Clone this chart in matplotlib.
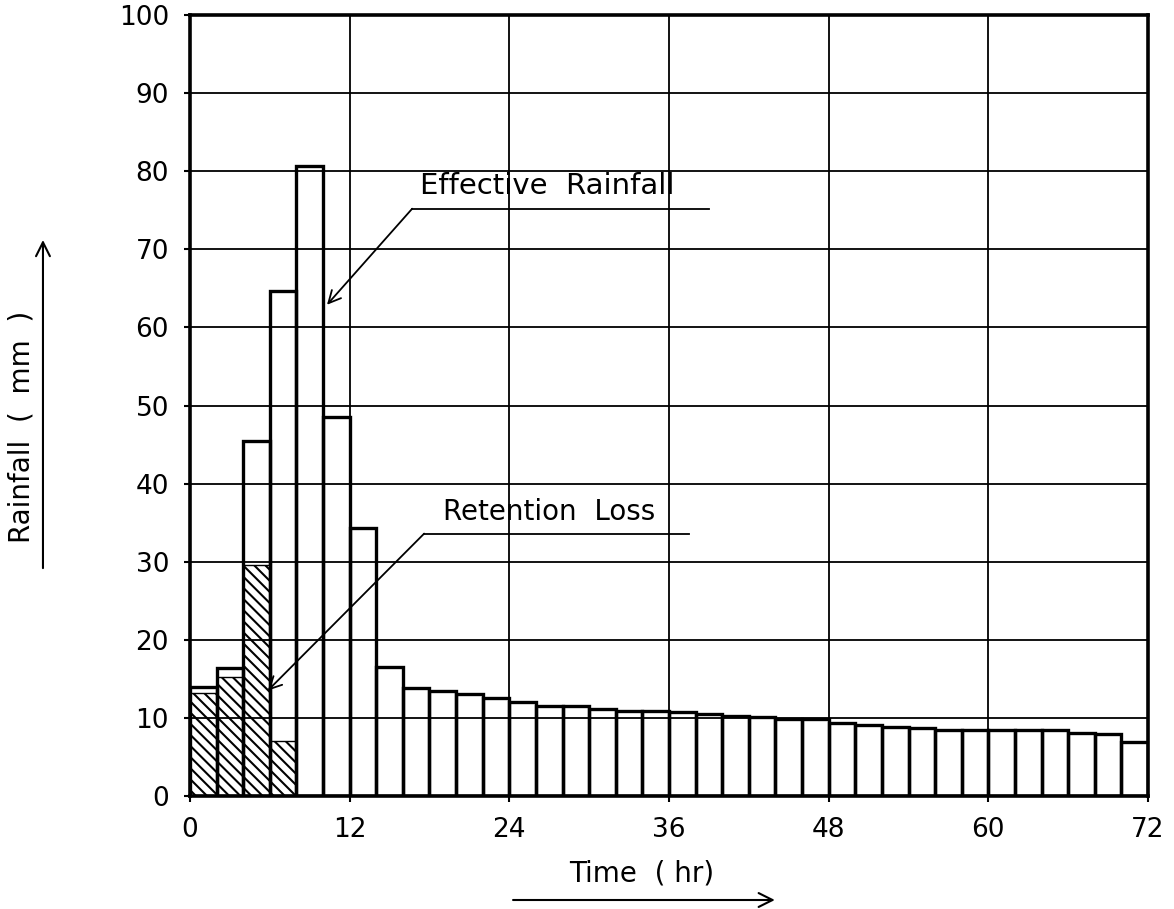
import matplotlib
matplotlib.use('Agg')
import matplotlib.pyplot as plt

# 2-hour time steps (start hour of each bar)
hours = list(range(0, 72, 2))

# total rainfall per 2 hr step (mm)
rainfall = [13.9, 16.4, 45.5, 64.7, 80.7, 48.5, 34.3, 16.5, 13.8, 13.4,
            13.1, 12.6, 12.1, 11.5, 11.5, 11.1, 10.9, 10.9, 10.7, 10.5,
            10.3, 10.1, 9.9, 9.8, 9.4, 9.1, 8.9, 8.7, 8.5, 8.5,
            8.5, 8.5, 8.5, 8.1, 7.9, 6.9]

# retention loss (hatched part), only first four steps
loss_hours = [0, 2, 4, 6]
retention_loss = [13.25, 15.2, 29.6, 7.0]

xticks = [0, 12, 24, 36, 48, 60, 72]
yticks = [0, 10, 20, 30, 40, 50, 60, 70, 80, 90, 100]

plt.rcParams['font.family'] = ['DejaVu Sans']
plt.rcParams['hatch.linewidth'] = 1.5

fig = plt.figure(figsize=(11.74, 9.09), dpi=100)
ax = fig.add_axes([0.1618, 0.1243, 0.8161, 0.8592])

ax.set_xlim(0, 72)
ax.set_ylim(0, 100)
ax.set_xticks(xticks)
ax.set_yticks(yticks)
ax.grid(True, color='black', linewidth=1.3)
ax.set_axisbelow(True)

ax.bar(loss_hours, retention_loss, width=2, align='edge', fill=False,
       hatch='\\\\\\', edgecolor='black', linewidth=1.0)
ax.bar(hours, rainfall, width=2, align='edge', fill=False,
       edgecolor='black', linewidth=2.4)

for s in ax.spines.values():
    s.set_linewidth(2.6)

ax.tick_params(axis='both', labelsize=19, length=4, width=1.5, pad=11)

# leader notes
ax.annotate('', xy=(10.3, 62.9), xytext=(16.7, 75.2),
            arrowprops=dict(arrowstyle='->', color='black', lw=1.3,
                            mutation_scale=22, shrinkA=0, shrinkB=0))
ax.plot([16.7, 39.0], [75.2, 75.2], color='black', lw=1.3)
ax.text(17.3, 76.3, 'Effective  Rainfall', fontsize=21, ha='left', va='bottom')

ax.annotate('', xy=(5.85, 13.5), xytext=(17.6, 33.6),
            arrowprops=dict(arrowstyle='->', color='black', lw=1.3,
                            mutation_scale=22, shrinkA=0, shrinkB=0))
ax.plot([17.6, 37.5], [33.6, 33.6], color='black', lw=1.3)
ax.text(19.0, 34.6, 'Retention  Loss', fontsize=20, ha='left', va='bottom')

# axis titles with arrows
fig.text(0.0187, 0.530, 'Rainfall  (  mm  )', rotation=90, fontsize=20,
         ha='center', va='center')
fig.text(0.547, 0.0396, 'Time  ( hr)', fontsize=20, ha='center', va='center')
ax.annotate('', xy=(0.0366, 0.736), xytext=(0.0366, 0.375),
            xycoords='figure fraction', textcoords='figure fraction',
            arrowprops=dict(arrowstyle='->', color='black', lw=1.5,
                            mutation_scale=25, shrinkA=0, shrinkB=0))
ax.annotate('', xy=(0.660, 0.0099), xytext=(0.437, 0.0099),
            xycoords='figure fraction', textcoords='figure fraction',
            arrowprops=dict(arrowstyle='->', color='black', lw=1.5,
                            mutation_scale=25, shrinkA=0, shrinkB=0))

fig.savefig('out.png', dpi=100)
